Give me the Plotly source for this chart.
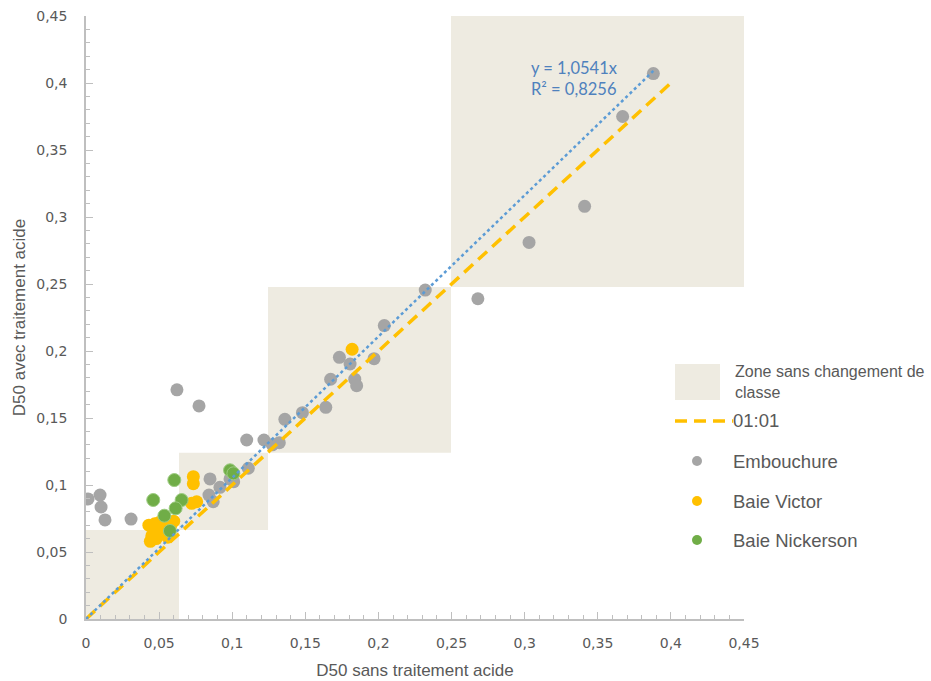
import plotly.graph_objects as go

# ---------------- data ----------------
emb_x = [0.0014, 0.0096, 0.0103, 0.013, 0.0308, 0.0622, 0.0773,
         0.0848, 0.0916, 0.0841, 0.087, 0.0985, 0.101, 0.111,
         0.1099, 0.1217, 0.1274, 0.1322, 0.136, 0.148, 0.164,
         0.1673, 0.1733, 0.1806, 0.1838, 0.1851, 0.197, 0.204,
         0.232, 0.268, 0.303, 0.341, 0.367, 0.388]
emb_y = [0.0896, 0.0925, 0.0836, 0.0739, 0.0746, 0.171, 0.159,
         0.1045, 0.0983, 0.0925, 0.0875, 0.1045, 0.1025, 0.1125,
         0.1336, 0.1336, 0.130, 0.1316, 0.149, 0.154, 0.158,
         0.1789, 0.1953, 0.1903, 0.179, 0.1741, 0.1943, 0.219,
         0.2455, 0.239, 0.281, 0.308, 0.375, 0.407]

vic_x = [0.0734, 0.0734, 0.0723, 0.0757, 0.043, 0.045, 0.044, 0.047,
         0.049, 0.050, 0.052, 0.056, 0.058, 0.060, 0.048, 0.1820]
vic_y = [0.1062, 0.1010, 0.0863, 0.0875, 0.070, 0.062, 0.058, 0.071,
         0.066, 0.072, 0.068, 0.061, 0.070, 0.073, 0.060, 0.2013]

nic_x = [0.0604, 0.046, 0.0654, 0.0613, 0.0536, 0.0574, 0.0985, 0.1008]
nic_y = [0.1037, 0.0888, 0.0888, 0.0826, 0.0771, 0.0657, 0.111, 0.1087]

# "zone sans changement de classe" boxes (edges)
zone_x_lo = [0.0, 0.0636, 0.1245, 0.2496]
zone_x_hi = [0.0636, 0.1245, 0.2496, 0.4534]
zone_y_lo = [0.0, 0.0664, 0.1241, 0.2478]
zone_y_hi = [0.0664, 0.1241, 0.2478, 0.4530]

slope = 1.0541
reg_x = [0.0, 0.388]
one_x = [0.0, 0.40]

tick_vals = [0, 0.05, 0.1, 0.15, 0.2, 0.25, 0.3, 0.35, 0.4, 0.45]
tick_text = ["0", "0,05", "0,1", "0,15", "0,2", "0,25", "0,3", "0,35", "0,4", "0,45"]

# ---------------- style ----------------
ZONE = "#EEEBE1"
GREY = "#A5A5A5"
YEL = "#FFC000"
GRN = "#70AD47"
BLUE = "#5B9BD5"
TXT = "#595959"
AX = "#BFBFBF"

W, H = 931, 681
ML, MR, MT, MB = 86, 187, 16, 62
PW, PH = W - ML - MR, H - MT - MB


def px(xp):
    return (xp - ML) / PW


def py(yp):
    return (H - MB - yp) / PH


fig = go.Figure()

shapes = []
for x0, x1, y0, y1 in zip(zone_x_lo, zone_x_hi, zone_y_lo, zone_y_hi):
    shapes.append(dict(type="rect", xref="x", yref="y", x0=x0, x1=x1, y0=y0, y1=y1,
                       fillcolor=ZONE, line=dict(width=0), layer="below"))

fig.add_trace(go.Scatter(x=emb_x, y=emb_y, mode="markers", name="Embouchure",
                         marker=dict(size=13, color=GREY, line=dict(width=0))))
fig.add_trace(go.Scatter(x=vic_x, y=vic_y, mode="markers", name="Baie Victor",
                         marker=dict(size=13, color=YEL, line=dict(width=0))))
fig.add_trace(go.Scatter(x=nic_x, y=nic_y, mode="markers", name="Baie Nickerson",
                         marker=dict(size=13, color=GRN, line=dict(width=1, color="#9CCB80"))))

fig.add_trace(go.Scatter(x=one_x, y=one_x, mode="lines", name="01:01",
                         line=dict(color=YEL, width=3.5, dash="12px,7px")))
fig.add_trace(go.Scatter(x=reg_x, y=[slope * v for v in reg_x], mode="lines",
                         name="reg", line=dict(color=BLUE, width=2.5, dash="dot")))

# ---------------- manual legend ----------------
shapes.append(dict(type="rect", xref="paper", yref="paper", x0=px(675), x1=px(720),
                   y0=py(400), y1=py(364), fillcolor=ZONE, line=dict(width=0)))
shapes.append(dict(type="line", xref="paper", yref="paper", x0=px(675), x1=px(733),
                   y0=py(421), y1=py(421), line=dict(color=YEL, width=3.5, dash="12px,7px")))
for col, yy in [(GREY, 461), (YEL, 501), (GRN, 540)]:
    shapes.append(dict(type="circle", xref="paper", yref="paper", xsizemode="pixel",
                       ysizemode="pixel", xanchor=px(697), yanchor=py(yy),
                       x0=-5, x1=5, y0=-5, y1=5, fillcolor=col, line=dict(width=0)))

annots = []
annots.append(dict(xref="paper", yref="paper", x=px(733), y=py(382),
                   text="Zone sans changement de<br>classe", showarrow=False,
                   xanchor="left", yanchor="middle", align="left",
                   font=dict(family="Liberation Sans, Arial", size=16, color=TXT)))
leg_font = dict(family="Liberation Sans, Arial", size=18.5, color=TXT)
for t, yy in [("01:01", 421), ("Embouchure", 461), ("Baie Victor", 501), ("Baie Nickerson", 540)]:
    annots.append(dict(xref="paper", yref="paper", x=px(731), y=py(yy), text=t,
                       showarrow=False, xanchor="left", yanchor="middle", font=leg_font))

annots.append(dict(xref="x", yref="y", x=0.3030, y=0.4037,
                   text="y = 1,0541x<br>R² = 0,8256", showarrow=False,
                   xanchor="left", yanchor="middle", align="left",
                   font=dict(family="Lato, Open Sans", size=16.5, color="#4F81BD")))

axis_common = dict(
    range=[0, 0.45], tickvals=tick_vals, ticktext=tick_text,
    showgrid=False, zeroline=False, showline=True, linecolor=AX, linewidth=1.5,
    ticks="inside", ticklen=7, tickcolor=AX, tickwidth=1,
    minor=dict(dtick=0.01, ticks="inside", ticklen=4, tickcolor=AX, tickwidth=1),
    tickfont=dict(family="DejaVu Sans", size=14, color=TXT),
    fixedrange=True, automargin=False,
)

fig.update_layout(
    width=W, height=H,
    margin=dict(l=ML, r=MR, t=MT, b=MB, pad=0, autoexpand=False),
    plot_bgcolor="white", paper_bgcolor="white",
    showlegend=False,
    shapes=shapes, annotations=annots,
    xaxis=dict(**axis_common, ticklabelstandoff=10,
               title=dict(text="D50 sans traitement acide", standoff=15,
                          font=dict(family="Liberation Sans, Arial", size=17, color=TXT))),
    yaxis=dict(**axis_common, ticklabelstandoff=14,
               title=dict(text="D50 avec traitement acide", standoff=6,
                          font=dict(family="Liberation Sans, Arial", size=17, color=TXT))),
)

fig.write_html("out.html", include_plotlyjs=True, config={"displayModeBar": False})
